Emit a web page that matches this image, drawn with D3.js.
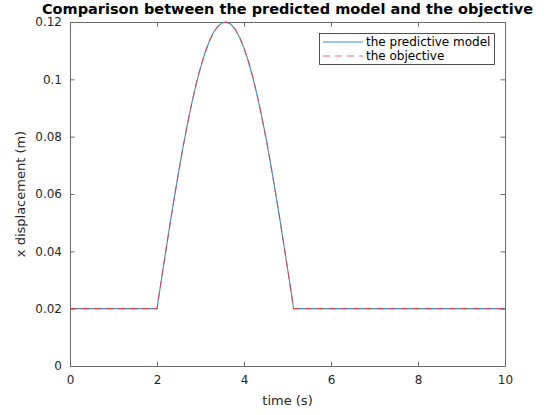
<!DOCTYPE html>
<html>
<head>
<meta charset="utf-8">
<script src="https://cdn.jsdelivr.net/npm/d3@7"></script>
<style>
  html, body { margin: 0; padding: 0; background: #fff; }
  svg { display: block; font-family: "DejaVu Sans", sans-serif; }
</style>
</head>
<body>
<svg id="chart" width="547" height="415"></svg>
<script>
// Sample times (s)
const times = [0, 2.0, 2.1, 2.2, 2.3, 2.4, 2.5, 2.6, 2.7, 2.8, 2.9, 3.0, 3.1, 3.2, 3.3, 3.4,
  3.5, 3.6, 3.7, 3.8, 3.9, 4.0, 4.1, 4.2, 4.3, 4.4, 4.5, 4.6, 4.7, 4.8, 4.9, 5.0, 5.1, 5.14, 10];

// x displacement (m) of the predictive model
const predicted = [0.0200, 0.0200, 0.0300, 0.0399, 0.0496, 0.0589, 0.0679, 0.0765, 0.0844, 0.0917,
  0.0983, 0.1041, 0.1091, 0.1132, 0.1164, 0.1185, 0.1197, 0.1200, 0.1192, 0.1174, 0.1146,
  0.1109, 0.1063, 0.1009, 0.0946, 0.0876, 0.0799, 0.0716, 0.0627, 0.0535, 0.0439, 0.0341,
  0.0242, 0.0200, 0.0200];

// x displacement (m) of the objective
const objective = [0.0200, 0.0200, 0.0300, 0.0399, 0.0496, 0.0589, 0.0679, 0.0765, 0.0844, 0.0917,
  0.0983, 0.1041, 0.1091, 0.1132, 0.1164, 0.1185, 0.1197, 0.1200, 0.1192, 0.1174, 0.1146,
  0.1109, 0.1063, 0.1009, 0.0946, 0.0876, 0.0799, 0.0716, 0.0627, 0.0535, 0.0439, 0.0341,
  0.0242, 0.0200, 0.0200];

const xTicks = [0, 2, 4, 6, 8, 10];
const yTicks = [0, 0.02, 0.04, 0.06, 0.08, 0.1, 0.12];
const seriesNames = ["the predictive model", "the objective"];

const svg = d3.select("#chart");
const plotLeft = 70, plotRight = 505, plotTop = 22, plotBottom = 366;
const axisColor = "#6b6b6b", textColor = "#262626";
const blue = "#3a8fd3", red = "#ff3030";

const x = d3.scaleLinear().domain([0, 10]).range([plotLeft, plotRight]);
const y = d3.scaleLinear().domain([0, 0.12]).range([plotBottom, plotTop]);

const fmtY = d => d === 0 ? "0" : String(+d.toFixed(2));

// Axes: bottom/left with labels, top/right close the box with inward ticks
const tickLen = 4.5;
function styleAxis(g) {
  g.selectAll("path.domain").attr("stroke", axisColor).attr("stroke-width", 1);
  g.selectAll(".tick line").attr("stroke", axisColor).attr("stroke-width", 1);
  g.selectAll(".tick text").attr("fill", textColor).attr("font-size", 12)
    .attr("font-family", "DejaVu Sans, sans-serif");
}

svg.append("g").attr("transform", `translate(0,${plotBottom})`)
  .call(d3.axisBottom(x).tickValues(xTicks).tickSizeInner(-tickLen).tickSizeOuter(0).tickPadding(9))
  .call(styleAxis);
svg.append("g").attr("transform", `translate(0,${plotTop})`)
  .call(d3.axisTop(x).tickValues(xTicks).tickSizeInner(-tickLen).tickSizeOuter(0).tickFormat(""))
  .call(styleAxis);
svg.append("g").attr("transform", `translate(${plotLeft},0)`)
  .call(d3.axisLeft(y).tickValues(yTicks).tickSizeInner(-tickLen).tickSizeOuter(0).tickPadding(8).tickFormat(fmtY))
  .call(styleAxis);
svg.append("g").attr("transform", `translate(${plotRight},0)`)
  .call(d3.axisRight(y).tickValues(yTicks).tickSizeInner(-tickLen).tickSizeOuter(0).tickFormat(""))
  .call(styleAxis);

// Curves
const line = d3.line().x((d, i) => x(times[i])).y(d => y(d));
svg.append("path").datum(predicted)
  .attr("d", line).attr("fill", "none")
  .attr("stroke", blue).attr("stroke-width", 1.1);
svg.append("path").datum(objective)
  .attr("d", line).attr("fill", "none")
  .attr("stroke", red).attr("stroke-opacity", 0.75).attr("stroke-width", 1.1)
  .attr("stroke-dasharray", "7,5");

// Title and axis labels
svg.append("text").attr("x", (plotLeft + plotRight) / 2).attr("y", 14)
  .attr("text-anchor", "middle").attr("font-weight", "bold").attr("font-size", 14.5)
  .attr("fill", "#000").text("Comparison between the predicted model and the objective");
svg.append("text").attr("x", (plotLeft + plotRight) / 2).attr("y", 405)
  .attr("text-anchor", "middle").attr("font-size", 13).attr("fill", textColor).text("time (s)");
svg.append("text").attr("transform", `translate(25,${(plotTop + plotBottom) / 2}) rotate(-90)`)
  .attr("text-anchor", "middle").attr("font-size", 13).attr("fill", textColor).text("x displacement (m)");

// Legend
const lg = svg.append("g");
lg.append("rect").attr("x", 319.5).attr("y", 33.5).attr("width", 175).attr("height", 31)
  .attr("fill", "#fff").attr("stroke", textColor).attr("stroke-width", 0.8);
const legendStyles = [
  { color: blue, dash: null, opacity: 1 },
  { color: red, dash: "7,5", opacity: 0.75 }
];
seriesNames.forEach((name, i) => {
  const ly = 42 + i * 14;
  lg.append("line").attr("x1", 323).attr("x2", 363).attr("y1", ly).attr("y2", ly)
    .attr("stroke", legendStyles[i].color).attr("stroke-width", 1)
    .attr("stroke-opacity", legendStyles[i].opacity)
    .attr("stroke-dasharray", legendStyles[i].dash);
  lg.append("text").attr("x", 366).attr("y", ly + 4).attr("font-size", 12)
    .attr("fill", "#000").text(name);
});
</script>
</body>
</html>
